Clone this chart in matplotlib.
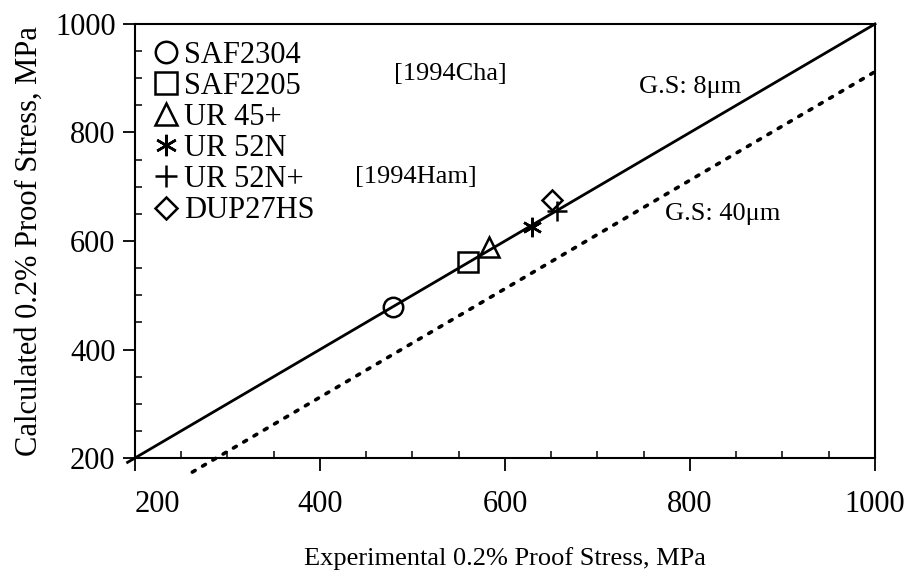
import matplotlib.pyplot as plt
from matplotlib.ticker import MultipleLocator

plt.rcParams['font.family'] = ['Liberation Serif', 'DejaVu Serif']

# experimental vs calculated proof stress (MPa)
steels = ['SAF2304', 'SAF2205', 'UR 45+', 'UR 52N', 'UR 52N+', 'DUP27HS']
exp_stress = [479, 560, 583, 629, 656, 651]
calc_stress = [479, 561, 589, 626, 656, 675]
markers = ['o', 's', '^', (6, 2, 0), '+', 'D']
msizes = [14, 15, 14, 14, 15, 10]

# grain size lines
line_8um_x = [192, 1000]
line_8um_y = [192, 1000]
line_40um_x = [262, 1000]
line_40um_y = [174, 912]

fig = plt.figure(figsize=(9.07, 5.78), dpi=100)
ax = fig.add_axes([0.1488, 0.2076, 0.8159, 0.7509])

ax.plot(line_8um_x, line_8um_y, color='black', lw=2, clip_on=False)
ax.plot(line_40um_x, line_40um_y, color='black', lw=2.6, linestyle=(0, (0.9, 2.4)),
        dash_capstyle='round', clip_on=False)

for i in range(len(steels)):
    ax.plot(exp_stress[i], calc_stress[i], linestyle='none', marker=markers[i],
            markersize=msizes[i], markerfacecolor='none', markeredgecolor='black',
            markeredgewidth=1.8, label=steels[i], clip_on=False)

leg = ax.legend(loc='upper left', bbox_to_anchor=(-0.012, 1.018), frameon=False,
                fontsize=22, handletextpad=0.1, handlelength=1.0,
                labelspacing=0.07, borderpad=0.3, markerscale=1.1)

ax.text(541, 908, '[1994Cha]', fontsize=19, ha='center', va='center')
ax.text(504, 718, '[1994Ham]', fontsize=19, ha='center', va='center')
ax.text(800, 884, 'G.S: 8\u03bcm', fontsize=19, ha='center', va='center')
ax.text(835, 650, 'G.S: 40\u03bcm', fontsize=19, ha='center', va='center')

ax.set_xlim(200, 1000)
ax.set_ylim(200, 1000)
ax.xaxis.set_major_locator(MultipleLocator(200))
ax.yaxis.set_major_locator(MultipleLocator(200))
ax.xaxis.set_minor_locator(MultipleLocator(50))
ax.yaxis.set_minor_locator(MultipleLocator(50))
ax.tick_params(which='major', direction='out', length=9, width=1.3, labelsize=22)
ax.tick_params(which='minor', direction='in', length=5, width=1.1)
ax.tick_params(axis='x', which='major', pad=14)
ax.tick_params(axis='y', which='major', pad=5)

for sp in ax.spines.values():
    sp.set_linewidth(1.5)

ax.set_xlabel('Experimental 0.2% Proof Stress, MPa', fontsize=19, labelpad=20)
ax.set_ylabel('Calculated 0.2% Proof Stress, MPa', fontsize=22, labelpad=8)

# the "200" label on x sits to the right of the corner in the original
fig.canvas.draw()
for lbl in ax.get_xticklabels():
    if lbl.get_text() == '200':
        lbl.set_horizontalalignment('left')

fig.savefig('out.png', dpi=100)
